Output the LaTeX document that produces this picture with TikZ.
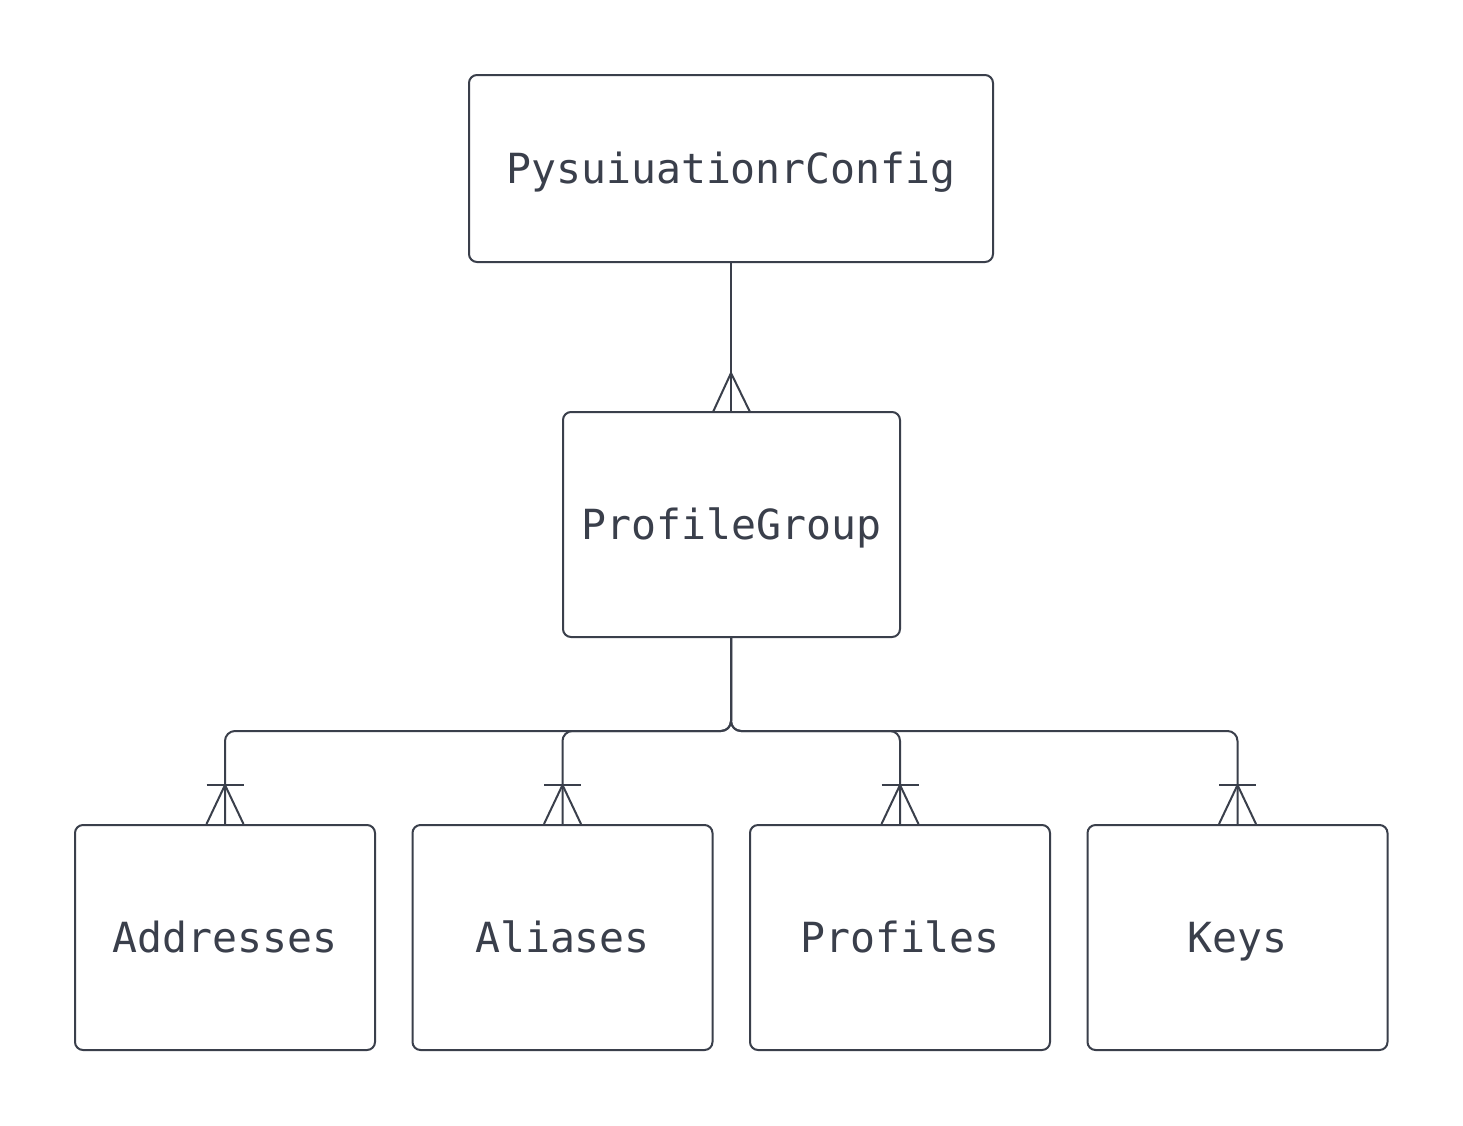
\documentclass[tikz,border=0pt]{standalone}
\usepackage{fontspec}
\setmonofont{DejaVu Sans Mono}
\usetikzlibrary{calc}
\definecolor{ink}{HTML}{3A3F4B}
\tikzset{
  ent/.style={draw=ink, line width=2pt, rounded corners=8pt, inner sep=0pt,
    font=\fontsize{41.5}{48}\selectfont\ttfamily, text=ink,
    text height=29pt, text depth=0pt},
  conn/.style={draw=ink, line width=2pt, rounded corners=10pt},
  foot/.style={draw=ink, line width=2pt}
}
\begin{document}
\begin{tikzpicture}[x=1pt,y=-1pt]
\useasboundingbox (0,0) rectangle (1463,1125);
\fill[white] (0,0) rectangle (1463,1125);
\node[ent, minimum width=524pt, minimum height=187pt] (cfg) at (731,168.5) {PysuiuationrConfig};
\node[ent, minimum width=337pt, minimum height=225pt] (pg) at (731.5,524.5) {ProfileGroup};
\node[ent, minimum width=300pt, minimum height=225pt] (ad) at (225,937.5) {Addresses};
\node[ent, minimum width=300pt, minimum height=225pt] (al) at (562.5,937.5) {Aliases};
\node[ent, minimum width=300pt, minimum height=225pt] (pr) at (900,937.5) {Profiles};
\node[ent, minimum width=300pt, minimum height=225pt] (ke) at (1237.5,937.5) {Keys};
% top relation
\draw[foot] (cfg.south -| 731,0) -- (pg.north -| 731,0);
\draw[foot] (713,412) -- (731,373) -- (750,412);
% bus
\foreach \c in {ad,al,pr,ke}{
  \draw[conn] (pg.south -| 731,0) |- (\c.north |- 0,731) -- (\c.north);
  \draw[foot] ($(\c.north)+(-18.5,0)$) -- ($(\c.north)+(0,-39)$) -- ($(\c.north)+(18.5,0)$);
  \draw[foot] ($(\c.north)+(-18.5,-39)$) -- ($(\c.north)+(18.5,-39)$);
}
\end{tikzpicture}
\end{document}
